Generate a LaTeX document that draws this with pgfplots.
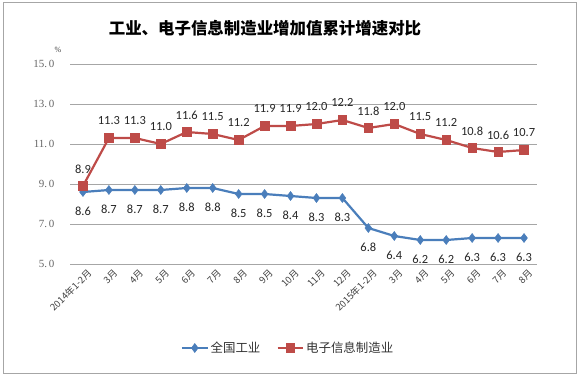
\documentclass[border=0pt]{standalone}
\usepackage{pgfplots}
\pgfplotsset{compat=1.18}
\usepackage{fontspec}
\setmainfont{Liberation Serif}
\newfontfamily\cjk{Noto Sans CJK SC}
\newfontfamily\calib{Carlito}
\definecolor{bl}{HTML}{4A7EBB}
\definecolor{rd}{HTML}{BE4B48}
\definecolor{gridc}{HTML}{A6A6A6}
\begin{document}
\begin{tikzpicture}
\useasboundingbox (0bp,0bp) rectangle (579bp,377bp);
\draw[gray!70, line width=0.8bp] (3bp,4bp) rectangle (576bp,375bp);
\node[font=\cjk\bfseries\fontsize{16.5}{18}\selectfont] at (265bp,349bp) {工业、电子信息制造业增加值累计增速对比};
\node[font=\fontsize{8}{9}\selectfont, text=black!75] at (58bp,327bp) {\%};
\coordinate (O) at (70bp,113bp);
\begin{axis}[at={(O)}, anchor=south west, scale only axis,
  width=467bp, height=200bp,
  xmin=-0.5, xmax=17.5, ymin=5, ymax=15,
  clip=false,
  axis line style={draw=none},
  major tick style={draw=none},
  ymajorgrids, grid style={gridc, line width=0.9bp},
  ytick={5,7,9,11,13,15},
  yticklabels={5.\,0,7.\,0,9.\,0,11.\,0,13.\,0,15.\,0},
  yticklabel style={font=\fontsize{11}{12}\selectfont, text=black!60, xshift=-12bp},
  xtick={0,...,17},
  xticklabels={2014年1-2月,3月,4月,5月,6月,7月,8月,9月,10月,11月,12月,2015年1-2月,3月,4月,5月,6月,7月,8月},
  xticklabel style={font=\cjk\fontsize{9.5}{10}\selectfont, text=black!75, rotate=45, anchor=east, yshift=-10bp, xshift=3bp},
  nodes near coords,
  /pgf/number format/.cd, fixed, fixed zerofill, precision=1, assume math mode=true,
  /pgfplots/.cd,
  nodes near coords style={font=\calib\fontsize{12.5}{13}\selectfont, text=black!85, inner sep=0pt, anchor=center},
  legend style={at={(0.467,-0.42)}, anchor=center, draw=none, legend columns=2,
    font=\cjk\fontsize{12.5}{13}\selectfont, text=black!80,
    /tikz/every even column/.append style={column sep=14bp}},
  legend image code/.code={\draw[#1, mark repeat=2, mark phase=2] plot coordinates {(0cm,0cm) (0.45cm,0cm) (0.9cm,0cm)};},
]
\addplot[bl, line width=2.2bp, mark=diamond*, mark size=4.5bp, mark options={fill=bl, draw=bl, line width=0.5bp},
  every node near coord/.append style={yshift=-19bp}] coordinates {
(0,8.6) (1,8.7) (2,8.7) (3,8.7) (4,8.8) (5,8.8) (6,8.5) (7,8.5) (8,8.4) (9,8.3) (10,8.3)
(11,6.8) (12,6.4) (13,6.2) (14,6.2) (15,6.3) (16,6.3) (17,6.3)};
\addlegendentry{全国工业}
\addplot[rd, line width=2.2bp, mark=square*, mark size=4.3bp, mark options={fill=rd, draw=rd, line width=0.5bp},
  every node near coord/.append style={yshift=17bp}] coordinates {
(0,8.9) (1,11.3) (2,11.3) (3,11.0) (4,11.6) (5,11.5) (6,11.2) (7,11.9) (8,11.9) (9,12.0) (10,12.2)
(11,11.8) (12,12.0) (13,11.5) (14,11.2) (15,10.8) (16,10.6) (17,10.7)};
\addlegendentry{电子信息制造业}
\end{axis}
\end{tikzpicture}
\end{document}
